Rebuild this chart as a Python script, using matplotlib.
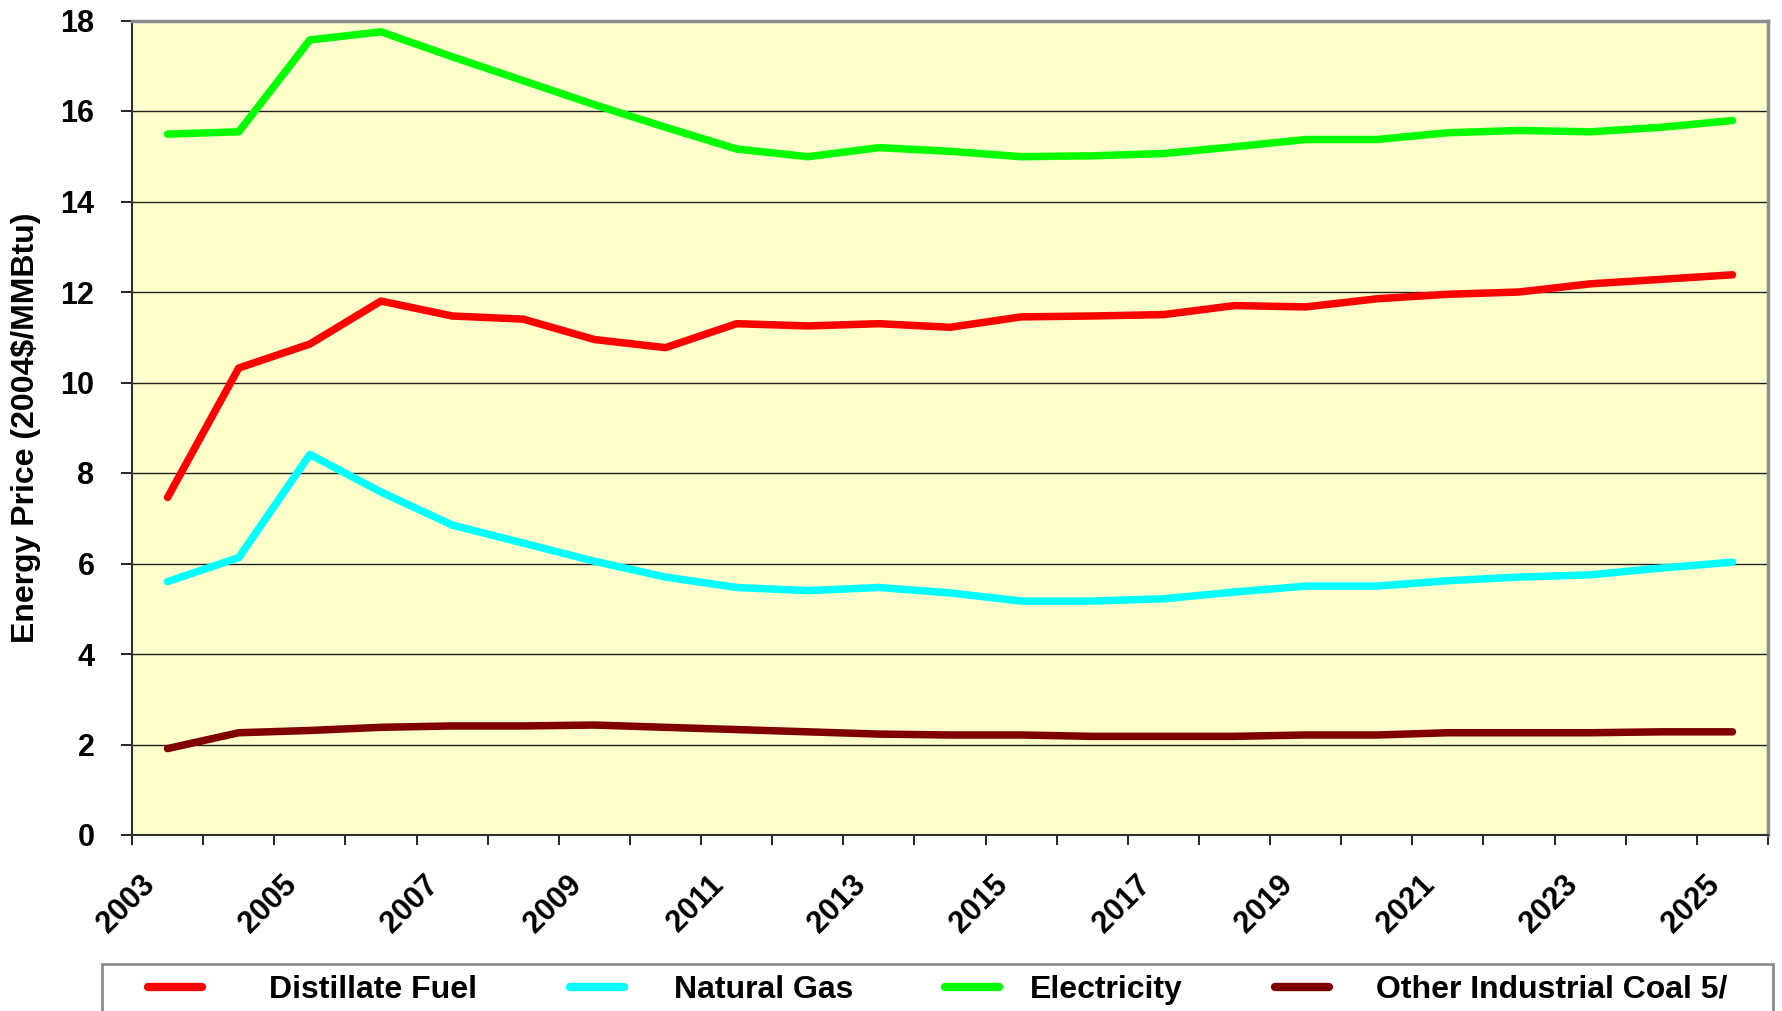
import matplotlib
matplotlib.use('Agg')
import matplotlib.pyplot as plt
import matplotlib.patches as patches
from matplotlib.transforms import ScaledTranslation

plt.rcParams['font.family'] = ['Liberation Sans', 'DejaVu Sans']
plt.rcParams['font.weight'] = 'bold'

years = list(range(2003, 2026))
distillate = [7.46, 10.32, 10.85, 11.80, 11.47, 11.40, 10.95, 10.77, 11.30, 11.25, 11.30, 11.22,
              11.45, 11.47, 11.50, 11.70, 11.67, 11.85, 11.95, 12.00, 12.18, 12.28, 12.38]
natural_gas = [5.60, 6.13, 8.41, 7.58, 6.85, 6.45, 6.05, 5.70, 5.47, 5.40, 5.47, 5.35,
               5.17, 5.17, 5.22, 5.37, 5.50, 5.50, 5.62, 5.70, 5.75, 5.90, 6.03]
electricity = [15.49, 15.54, 17.57, 17.75, 17.20, 16.67, 16.14, 15.64, 15.16, 14.99, 15.19, 15.11,
               14.99, 15.01, 15.06, 15.21, 15.37, 15.37, 15.52, 15.57, 15.54, 15.64, 15.79]
coal = [1.91, 2.26, 2.31, 2.38, 2.41, 2.41, 2.43, 2.38, 2.33, 2.28, 2.23, 2.21,
        2.21, 2.18, 2.18, 2.18, 2.21, 2.21, 2.26, 2.26, 2.26, 2.28, 2.28]

series = [("Distillate Fuel", distillate, '#FF0000'),
          ("Natural Gas", natural_gas, '#00FFFF'),
          ("Electricity", electricity, '#00FF00'),
          ("Other Industrial Coal 5/", coal, '#800000')]

fig = plt.figure(figsize=(17.82, 10.11), dpi=100)
ax = fig.add_axes([132 / 1782, 176 / 1011, (1768 - 132) / 1782, (990.5 - 176) / 1011])
ax.set_facecolor('#FFFFCC')

x = list(range(len(years)))
lines = []
for name, vals, col in series:
    ln, = ax.plot(x, vals, color=col, lw=5.4, label=name,
                  solid_capstyle='round', solid_joinstyle='round')
    lines.append(ln)

ax.set_xlim(-0.5, len(years) - 0.5)
ax.set_ylim(0, 18)
ax.set_yticks(range(0, 19, 2))
ax.yaxis.grid(True, color='#202020', lw=1.0)
ax.set_axisbelow(True)
ax.tick_params(axis='y', direction='out', length=8, width=1.2, pad=19, labelsize=22)

# category axis: ticks between categories, labels on every other year
ax.set_xticks([i - 0.5 for i in range(len(years) + 1)], minor=True)
ax.set_xticks(x[::2])
ax.set_xticklabels([str(y) for y in years[::2]], rotation=45, ha='right', va='top',
                   rotation_mode='anchor', fontsize=22)
ax.tick_params(axis='x', which='minor', direction='out', length=7.5, width=1.2)
ax.tick_params(axis='x', which='major', length=0, pad=25)
shift = ScaledTranslation(-28 / 100, 0, fig.dpi_scale_trans)
for lbl in ax.get_xticklabels():
    lbl.set_transform(lbl.get_transform() + shift)

for side in ['left', 'bottom']:
    ax.spines[side].set_color('#303030')
    ax.spines[side].set_linewidth(1.5)
for side in ['top', 'right']:
    ax.spines[side].set_color('#8C8C8C')
    ax.spines[side].set_linewidth(2.5)

ax.set_ylabel('Energy Price (2004$/MMBtu)', fontsize=23, fontweight='bold')
ax.yaxis.set_label_coords(-0.0556, 0.5)

# legend along the bottom, one entry per slot like the Excel original
slots = [(148, 2.1), (570, 1.54), (945, 0.97), (1275, 1.47)]
for ln, (x0, gap) in zip(lines, slots):
    leg = fig.legend(handles=[ln], loc='center left', bbox_to_anchor=(x0 / 1782, 1 - 990 / 1011),
                     frameon=False, fontsize=23, handlelength=1.7, handletextpad=gap,
                     borderpad=0, borderaxespad=0)
    leg.legend_handles[0].set_linewidth(6)
box = patches.Rectangle((102 / 1782, -0.05), (1773 - 102) / 1782, 0.05 + (1011 - 964) / 1011,
                        transform=fig.transFigure, fill=False, edgecolor='#8C8C8C',
                        lw=2, clip_on=False)
fig.patches.append(box)

fig.savefig('out.png', dpi=100)
